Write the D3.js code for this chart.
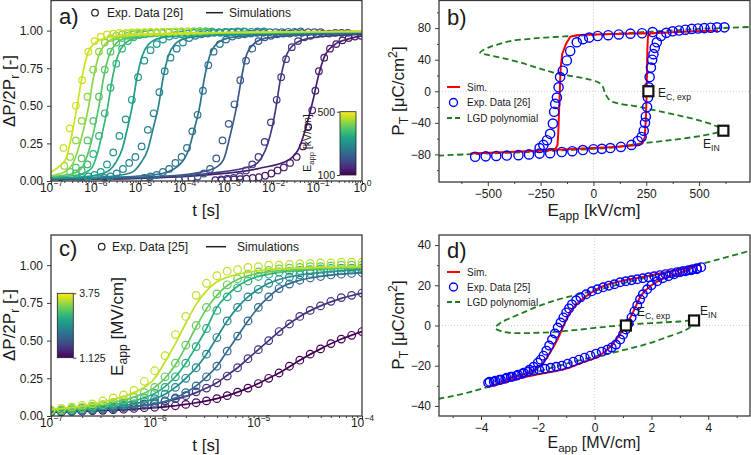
<!DOCTYPE html>
<html><head><meta charset="utf-8">
<script src="https://cdn.jsdelivr.net/npm/d3@7"></script>
<style>
body{margin:0;background:#fff;}
svg{display:block;font-family:"Liberation Sans",Arial,Helvetica,sans-serif;}
</style></head><body>
<svg id="chart" width="751" height="455"></svg>
<script>
// ================= DATA =================
// Panel a: switching kinetics (log10 t [s], dP/2Pr), fields in kV/cm
const fieldsA = [470, 430, 395, 365, 320, 280, 250, 210, 165, 130];
const colorRangeA = [100, 500];
const simA = [
 [[-7,0.06],[-6.8,0.10],[-6.66,0.15],[-6.51,0.34],[-6.40,0.52],[-6.29,0.71],[-6.17,0.85],[-6.02,0.915],[-5.78,0.95],[-5.3,0.97],[-4.5,0.98],[-3,0.988],[0,0.995]],
 [[-7,0.035],[-6.7,0.06],[-6.5,0.12],[-6.38,0.22],[-6.26,0.35],[-6.15,0.50],[-6.05,0.68],[-5.93,0.83],[-5.78,0.91],[-5.55,0.95],[-5.05,0.97],[-4.2,0.98],[-2.5,0.988],[0,0.995]],
 [[-7,0.03],[-6.5,0.05],[-6.3,0.09],[-6.15,0.20],[-6.03,0.34],[-5.92,0.50],[-5.82,0.68],[-5.70,0.83],[-5.55,0.91],[-5.32,0.95],[-4.8,0.97],[-4.0,0.98],[-2.3,0.987],[0,0.993]],
 [[-7,0.025],[-6.4,0.04],[-6.1,0.08],[-5.95,0.19],[-5.83,0.34],[-5.72,0.50],[-5.62,0.68],[-5.50,0.83],[-5.35,0.91],[-5.1,0.95],[-4.6,0.967],[-3.8,0.978],[-2,0.987],[0,0.993]],
 [[-7,0.02],[-6.2,0.03],[-5.75,0.06],[-5.55,0.12],[-5.40,0.21],[-5.28,0.35],[-5.17,0.50],[-5.07,0.68],[-4.95,0.83],[-4.80,0.91],[-4.55,0.95],[-4.05,0.967],[-3.2,0.978],[-1.5,0.987],[0,0.992]],
 [[-7,0.018],[-5.8,0.028],[-5.2,0.055],[-4.98,0.12],[-4.82,0.21],[-4.70,0.35],[-4.58,0.50],[-4.48,0.68],[-4.36,0.83],[-4.21,0.91],[-3.96,0.95],[-3.45,0.967],[-2.6,0.977],[-1,0.986],[0,0.99]],
 [[-7,0.015],[-5.5,0.025],[-4.5,0.05],[-4.1,0.11],[-3.90,0.21],[-3.77,0.35],[-3.65,0.50],[-3.55,0.68],[-3.43,0.83],[-3.28,0.91],[-3.02,0.95],[-2.5,0.967],[-1.6,0.977],[0,0.987]],
 [[-7,0.012],[-5,0.025],[-3.92,0.045],[-3.32,0.085],[-3.12,0.14],[-2.97,0.30],[-2.82,0.50],[-2.72,0.67],[-2.62,0.82],[-2.44,0.91],[-2.17,0.95],[-1.62,0.967],[-0.72,0.976],[0,0.982]],
 [[-7,0.01],[-5,0.02],[-3.47,0.05],[-2.47,0.10],[-2.25,0.16],[-2.13,0.24],[-2.02,0.36],[-1.93,0.50],[-1.84,0.67],[-1.72,0.82],[-1.52,0.91],[-1.17,0.95],[-0.57,0.968],[0,0.975]],
 [[-7,0.01],[-5,0.018],[-3.5,0.04],[-2.3,0.085],[-1.65,0.14],[-1.40,0.23],[-1.22,0.40],[-1.10,0.54],[-0.98,0.70],[-0.84,0.83],[-0.6,0.91],[-0.3,0.945],[0,0.965]]
];
const expA = [
 [[-6.72,0.22],[-6.58,0.35],[-6.44,0.50],[-6.30,0.67],[-6.16,0.86],[-6.02,0.93],[-5.88,0.96],[-5.74,0.975],[-5.60,0.98],[-5.46,0.985],[-5.32,0.985],[-5.18,0.988],[-5.04,0.99],[-4.90,0.99],[-4.76,0.99],[-4.62,0.99],[-4.48,0.992],[-4.34,0.992],[-4.20,0.995],[-4.06,0.995],[-3.92,0.995]],
 [[-6.70,0.10],[-6.57,0.16],[-6.44,0.27],[-6.31,0.40],[-6.18,0.56],[-6.05,0.74],[-5.92,0.86],[-5.79,0.92],[-5.66,0.95],[-5.53,0.965],[-5.40,0.975],[-5.27,0.98],[-5.14,0.985],[-5.01,0.985],[-4.88,0.988],[-4.75,0.99],[-4.62,0.99],[-4.48,0.99],[-4.34,0.992],[-4.20,0.992],[-4.06,0.995],[-3.92,0.995],[-3.78,0.995],[-3.64,0.995]],
 [[-6.57,0.06],[-6.44,0.09],[-6.31,0.15],[-6.18,0.27],[-6.05,0.40],[-5.92,0.56],[-5.79,0.74],[-5.66,0.86],[-5.53,0.92],[-5.40,0.95],[-5.27,0.965],[-5.14,0.975],[-5.01,0.98],[-4.88,0.985],[-4.75,0.985],[-4.62,0.988],[-4.49,0.99],[-4.35,0.99],[-4.21,0.99],[-4.07,0.992],[-3.93,0.992],[-3.79,0.995],[-3.65,0.995],[-3.51,0.995]],
 [[-6.44,0.05],[-6.31,0.07],[-6.18,0.11],[-6.05,0.18],[-5.92,0.30],[-5.79,0.45],[-5.66,0.62],[-5.53,0.78],[-5.40,0.88],[-5.27,0.93],[-5.14,0.955],[-5.01,0.97],[-4.88,0.975],[-4.75,0.98],[-4.62,0.985],[-4.49,0.985],[-4.36,0.99],[-4.22,0.99],[-4.08,0.99],[-3.94,0.992],[-3.80,0.992],[-3.66,0.995],[-3.52,0.995],[-3.38,0.995]],
 [[-6.30,0.02],[-6.16,0.03],[-6.02,0.04],[-5.88,0.06],[-5.74,0.11],[-5.60,0.19],[-5.46,0.30],[-5.32,0.41],[-5.18,0.54],[-5.04,0.69],[-4.90,0.80],[-4.76,0.87],[-4.62,0.91],[-4.48,0.94],[-4.34,0.96],[-4.20,0.97],[-4.06,0.975],[-3.92,0.98],[-3.78,0.985],[-3.64,0.985],[-3.50,0.99],[-3.36,0.99],[-3.22,0.99],[-3.08,0.992],[-2.94,0.992],[-2.80,0.995],[-2.66,0.995]],
 [[-5.80,0.02],[-5.66,0.03],[-5.52,0.05],[-5.38,0.08],[-5.24,0.12],[-5.10,0.16],[-4.96,0.23],[-4.82,0.34],[-4.69,0.45],[-4.56,0.59],[-4.44,0.73],[-4.31,0.82],[-4.17,0.88],[-4.03,0.92],[-3.89,0.95],[-3.75,0.965],[-3.61,0.975],[-3.47,0.98],[-3.33,0.985],[-3.19,0.985],[-3.05,0.99],[-2.91,0.99],[-2.77,0.99],[-2.63,0.992],[-2.49,0.992],[-2.35,0.995],[-2.21,0.995]],
 [[-4.90,0.02],[-4.76,0.03],[-4.62,0.04],[-4.48,0.06],[-4.34,0.08],[-4.20,0.12],[-4.06,0.16],[-3.94,0.22],[-3.82,0.33],[-3.70,0.44],[-3.58,0.60],[-3.46,0.77],[-3.34,0.86],[-3.20,0.91],[-3.06,0.94],[-2.92,0.96],[-2.78,0.97],[-2.64,0.975],[-2.50,0.98],[-2.36,0.985],[-2.22,0.985],[-2.08,0.99],[-1.94,0.99],[-1.80,0.99],[-1.66,0.992],[-1.52,0.992],[-1.38,0.995]],
 [[-4.12,0.01],[-3.98,0.015],[-3.84,0.02],[-3.70,0.03],[-3.56,0.05],[-3.42,0.08],[-3.28,0.15],[-3.14,0.27],[-3.00,0.38],[-2.87,0.51],[-2.74,0.67],[-2.61,0.80],[-2.47,0.88],[-2.33,0.93],[-2.19,0.955],[-2.05,0.965],[-1.91,0.975],[-1.77,0.98],[-1.63,0.98],[-1.49,0.985],[-1.35,0.985],[-1.21,0.99],[-1.07,0.99],[-0.93,0.99]],
 [[-3.17,0.01],[-3.03,0.015],[-2.89,0.02],[-2.75,0.03],[-2.61,0.07],[-2.47,0.11],[-2.33,0.16],[-2.19,0.26],[-2.05,0.39],[-1.92,0.54],[-1.82,0.69],[-1.71,0.81],[-1.58,0.89],[-1.44,0.93],[-1.30,0.955],[-1.16,0.965],[-1.02,0.975],[-0.88,0.98],[-0.74,0.98],[-0.60,0.985],[-0.46,0.985],[-0.32,0.985]],
 [[-3.30,0.005],[-3.16,0.005],[-3.02,0.008],[-2.88,0.01],[-2.74,0.012],[-2.60,0.015],[-2.46,0.02],[-2.32,0.025],[-2.18,0.035],[-2.04,0.05],[-1.90,0.07],[-1.76,0.09],[-1.62,0.12],[-1.47,0.16],[-1.33,0.23],[-1.21,0.36],[-1.12,0.47],[-1.05,0.60],[-0.97,0.73],[-0.85,0.82],[-0.72,0.88],[-0.58,0.91],[-0.44,0.935],[-0.30,0.95],[-0.16,0.96],[-0.02,0.965]]
];
const ticksA_x = [1e-7,1e-6,1e-5,1e-4,1e-3,1e-2,1e-1,1];
const ticksY_frac = [0,0.25,0.5,0.75,1.0];

// Panel c: fields in MV/cm
const fieldsC = [3.5, 3.125, 2.75, 2.375, 2.0, 1.5, 1.125];
const colorRangeC = [1.125, 3.75];
const tSimC = [-7,-6.7,-6.4,-6.2,-6.0,-5.9,-5.8,-5.7,-5.6,-5.5,-5.4,-5.3,-5.2,-5.1,-5.0,-4.9,-4.8,-4.6,-4.4,-4.2,-4.0];
const simC = [
 [0.045,0.065,0.11,0.155,0.25,0.36,0.48,0.615,0.74,0.83,0.89,0.92,0.94,0.952,0.962,0.97,0.975,0.98,0.985,0.988,0.99],
 [0.04,0.055,0.09,0.125,0.19,0.25,0.34,0.46,0.59,0.71,0.80,0.865,0.905,0.93,0.945,0.955,0.962,0.972,0.978,0.982,0.985],
 [0.035,0.05,0.075,0.10,0.15,0.195,0.26,0.35,0.46,0.58,0.72,0.80,0.86,0.90,0.925,0.94,0.952,0.965,0.973,0.978,0.98],
 [0.03,0.042,0.06,0.08,0.115,0.145,0.19,0.25,0.32,0.41,0.52,0.63,0.72,0.79,0.84,0.88,0.905,0.935,0.952,0.963,0.97],
 [0.028,0.035,0.048,0.06,0.08,0.095,0.12,0.155,0.20,0.26,0.33,0.43,0.53,0.63,0.72,0.79,0.845,0.90,0.925,0.94,0.95],
 [0.03,0.038,0.05,0.062,0.08,0.095,0.11,0.13,0.155,0.185,0.22,0.27,0.32,0.38,0.44,0.50,0.56,0.66,0.73,0.78,0.815],
 [0.025,0.03,0.038,0.045,0.055,0.06,0.068,0.077,0.088,0.10,0.115,0.135,0.158,0.185,0.215,0.25,0.285,0.37,0.445,0.51,0.56]
];
const tExpC = [-7.0,-6.9,-6.8,-6.7,-6.6,-6.5,-6.4,-6.3,-6.2,-6.1,-6.0,-5.9,-5.8,-5.7,-5.6,-5.5,-5.4,-5.3,-5.2,-5.1,-5.0,-4.9,-4.8,-4.7,-4.6,-4.5,-4.4,-4.3,-4.2,-4.1,-4.0];
const expC = [
 [0.04,0.05,0.06,0.07,0.08,0.10,0.12,0.14,0.17,0.23,0.30,0.40,0.54,0.66,0.80,0.88,0.93,0.96,0.97,0.985,0.99,1.0,1.0,1.005,1.01,1.01,1.015,1.015,1.02,1.02,1.02],
 [0.035,0.04,0.05,0.055,0.065,0.075,0.09,0.105,0.125,0.155,0.19,0.26,0.35,0.47,0.60,0.72,0.81,0.87,0.91,0.94,0.955,0.965,0.975,0.98,0.985,0.99,0.99,0.995,1.0,1.0,1.0],
 [0.03,0.035,0.04,0.05,0.055,0.065,0.075,0.085,0.10,0.12,0.15,0.19,0.26,0.35,0.46,0.58,0.70,0.79,0.85,0.895,0.925,0.94,0.955,0.96,0.965,0.97,0.975,0.978,0.98,0.98,0.982],
 [0.03,0.03,0.035,0.04,0.045,0.05,0.06,0.07,0.08,0.095,0.115,0.145,0.19,0.25,0.32,0.41,0.52,0.63,0.72,0.79,0.84,0.88,0.905,0.92,0.935,0.945,0.952,0.958,0.963,0.967,0.97],
 [0.025,0.028,0.03,0.035,0.04,0.045,0.048,0.055,0.06,0.07,0.08,0.095,0.12,0.155,0.20,0.26,0.33,0.43,0.53,0.63,0.72,0.79,0.845,0.875,0.90,0.915,0.925,0.935,0.94,0.945,0.95],
 [0.03,0.032,0.035,0.038,0.043,0.05,0.055,0.062,0.07,0.08,0.09,0.10,0.115,0.135,0.16,0.185,0.22,0.265,0.32,0.38,0.44,0.50,0.56,0.61,0.66,0.70,0.73,0.76,0.785,0.80,0.815],
 [0.025,0.027,0.03,0.032,0.035,0.038,0.042,0.045,0.05,0.055,0.058,0.063,0.068,0.077,0.088,0.10,0.115,0.135,0.158,0.185,0.215,0.25,0.285,0.33,0.37,0.41,0.445,0.48,0.51,0.535,0.56]
];
const ticksC_x = [1e-7,1e-6,1e-5,1e-4];

// Panel b: P-E loop (kV/cm, uC/cm2)
const simB = [[-583,-79],[-450,-77.5],[-300,-76],[-170,-74],[0,-72],[100,-70.5],[200,-68.5],[232,-66],[243,-58],[248,-35],[251,-10],[253,20],[255,50],[258,70],[270,73.2],[350,74.5],[450,75.8],[590,77],
 [450,75.8],[350,74.5],[260,73.5],[100,72.5],[0,72],[-80,71],[-110,69],[-130,60],[-148,47],[-155,30],[-158,10],[-162,-20],[-166,-50],[-170,-68],[-180,-73],[-250,-75],[-400,-77],[-583,-79]];
const expB = [[-560,-83],[-510,-82.5],[-460,-82],[-410,-81.5],[-355,-81],[-305,-80],[-255,-79],[-205,-78.5],[-150,-77],[-100,-76],[-50,-74.5],[0,-73.5],[40,-73],[80,-72],[130,-70.5],[180,-68],[210,-63],[228,-58],[238,-50],[244,-40],[248,-32],[254,-20],[258,-8],[262,5],[266,18],[272,30],[278,40],[284,47],[290,55],[300,62],[320,70],[345,74],[375,76],[405,77],[435,78],[465,79],[495,79.5],[525,80],[555,80.5],[585,81],[620,81],
 [280,75],[230,73.5],[175,73],[120,72],[70,71],[20,70],[-20,68],[-50,66],[-79,62],[-110,51],[-126,39],[-145,26],[-158,18],[-165,5],[-173,-8],[-181,-16],[-186,-26],[-192,-41],[-205,-54],[-220,-62],[-237,-68],[-255,-72]];
const lgdB = [[-735,-81.5],[-600,-80],[-450,-78.5],[-300,-77],[-150,-75],[0,-73],[100,-71],[200,-67],[363,-62],[521,-56],[590,-52],[622,-50],
 [580,-44],[516,-38],[440,-33],[358,-28],[280,-23.5],[200,-19],[120,-15.5],[80,-12],[62,-6],[52,0],[44,6],[25,11],[-36,16],[-100,19],[-194,24],[-270,30],[-347,36.5],[-430,42],[-500,46],[-536,49],
 [-500,55],[-450,59.5],[-394,63.5],[-300,66.5],[-200,68.5],[-100,70],[0,71.5],[100,73],[200,74.5],[300,76],[400,77.5],[500,79],[600,80],[745,81.5]];
const markB = {ec:[260,0], ein:[615,-50]};
const ticksB_x = [-500,-250,0,250,500];
const ticksB_y = [-80,-40,0,40,80];

// Panel d: P-E loop (MV/cm, uC/cm2)
const simD = [[3.73,30.6],[3.2,28.3],[2.68,27],[2.0,25],[1.5,23.6],[1.0,22.3],[0.62,21],[0.3,19.5],[0,17.5],[-0.2,15.5],[-0.4,13.5],[-0.6,11],[-0.85,7],[-1.08,0.3],[-1.31,-7],[-1.55,-13],[-1.78,-18],[-2.0,-21],[-2.35,-23.6],[-2.93,-26],[-3.3,-28],[-3.7,-30.5],
 [-3.0,-27.5],[-2.58,-26],[-2.0,-24.3],[-1.41,-22.7],[-0.9,-21],[-0.47,-18.5],[0.12,-15.5],[0.35,-13],[0.59,-10],[0.94,-3.3],[1.17,1.7],[1.41,8.3],[1.64,15],[2.0,20],[2.46,23.6],[3.17,27],[3.73,30.6]];
const expD = [[3.75,29],[3.6,28.5],[3.45,28],[3.3,27.5],[3.1,27],[2.9,26.5],[2.7,26],[2.5,25.5],[2.3,25],[2.1,24.5],[1.9,24],[1.7,23.5],[1.5,23],[1.3,22.5],[1.1,22],[0.9,21.5],[0.7,20.5],[0.5,19.8],[0.3,19],[0.1,18],[-0.1,17],[-0.3,15.5],[-0.5,14],[-0.65,12.5],[-0.8,10.5],[-0.9,8.5],[-1.0,6.5],[-1.1,4],[-1.2,1.5],[-1.3,-1],[-1.4,-4],[-1.5,-7],[-1.6,-10],[-1.7,-12.5],[-1.8,-15],[-1.9,-17],[-2.0,-18.5],[-2.15,-20.5],[-2.3,-22],[-2.5,-23.5],[-2.7,-24.5],[-2.9,-25.5],[-3.1,-26],[-3.3,-27],[-3.5,-27.5],[-3.7,-28],
 [-3.75,-28.5],[-3.55,-28],[-3.35,-27],[-3.15,-26.5],[-2.95,-25.5],[-2.75,-25],[-2.55,-24],[-2.35,-23],[-2.15,-22.5],[-1.95,-22],[-1.75,-21.5],[-1.55,-21],[-1.35,-20.5],[-1.15,-20],[-0.95,-19],[-0.75,-18],[-0.55,-17],[-0.35,-16],[-0.15,-15],[0.05,-14],[0.25,-13],[0.45,-12],[0.6,-11],[0.75,-9.5],[0.9,-7],[1.0,-4.5],[1.1,-2],[1.2,1],[1.3,4],[1.4,7],[1.5,10],[1.6,13],[1.7,15.5],[1.85,18],[2.0,20],[2.2,22],[2.4,23.5],[2.6,24.5],[2.8,25.5],[3.0,26.5],[3.2,27],[3.4,27.5],[3.6,28]];
const lgdD = [[-5.5,-36.5],[-4.5,-33.5],[-4,-31.5],[-3,-27.5],[-2,-23],[-1,-19],[0,-15.5],[0.5,-14],[1,-12.3],[1.5,-10.5],[2,-8.5],[2.5,-6],[3,-3.5],[3.3,-1.5],[3.48,1],[3.55,2.5],
 [3.0,2],[2.5,1.6],[2.0,1.2],[1.5,0.8],[1.0,0.2],[0.5,-0.5],[0,-1.2],[-0.5,-2],[-1,-2.7],[-1.5,-3.3],[-2,-3.6],[-2.5,-3.8],[-3,-3.6],[-3.3,-2.8],[-3.5,-1.2],
 [-3.3,1.5],[-3,3.5],[-2.5,6.5],[-2,9.5],[-1.5,12],[-1,14],[-0.5,15.8],[0,17.3],[1,21],[2,24.5],[3,28],[4,31.5],[5.5,37.3]];
const markD = {ec:[1.1,0], ein:[3.5,2.5]};
const ticksD_x = [-4,-2,0,2,4];
const ticksD_y = [-40,-20,0,20,40];

// ================= DRAW =================
const svg = d3.select('#chart');
const AX = '#3a3a3a', TXT = '#1a1a1a';
const RED = '#ff0000', BLUE = '#0000ff', GREEN = '#1f7a1f';
const minus = v => String(v).replace('-', '\u2212');

const PA={l:51,r:362,t:0.5,b:181}, PB={l:439,r:750,t:0.5,b:182};
const PC={l:51,r:362,t:235,b:416}, PD={l:439,r:750,t:235,b:416};

const xa=d3.scaleLog().domain([1e-7,1]).range([PA.l,PA.r]);
const ya=d3.scaleLinear().domain([0,1.2]).range([PA.b,PA.t]);
const xc=d3.scaleLog().domain([1e-7,1e-4]).range([PC.l,PC.r]);
const yc=d3.scaleLinear().domain([0,1.2]).range([PC.b,PC.t]);
const xb=d3.scaleLinear().domain([-731,741]).range([PB.l,PB.r]);
const yb=d3.scaleLinear().domain([-115,115]).range([PB.b,PB.t]);
const xd=d3.scaleLinear().domain([-5.48,5.47]).range([PD.l,PD.r]);
const yd=d3.scaleLinear().domain([-45,45]).range([PD.b,PD.t]);

function rich(sel, parts, fs){
  let shift=0;
  parts.forEach(([t,k])=>{
    const target = k==='sub'? 0.26*fs : k==='sup'? -0.42*fs : 0;
    const ts = sel.append('tspan').text(t).attr('dy', target-shift);
    if(k!=='n') ts.attr('font-size', 0.72*fs);
    shift = target;
  });
}
const defs = svg.append('defs');
function clip(id,P){
  defs.append('clipPath').attr('id',id).append('rect')
    .attr('x',P.l).attr('y',P.t).attr('width',P.r-P.l).attr('height',P.b-P.t);
  return svg.append('g').attr('clip-path',`url(#${id})`);
}
function styleAxis(g){
  g.select('.domain').remove();
  g.selectAll('.tick line').attr('stroke',AX).attr('stroke-width',1);
  g.selectAll('.tick text').attr('font-size',12).attr('fill',TXT).attr('font-family','"Liberation Sans",Arial,sans-serif');
}
function axes(P,x,y,o){
  const gx=svg.append('g').attr('transform',`translate(0,${P.b})`)
    .call(d3.axisBottom(x).tickValues(o.xt).tickSize(4).tickPadding(o.xlog?6.5:3).tickFormat(o.xf||(d=>minus(d))));
  styleAxis(gx);
  if(o.xlog){
    gx.selectAll('.tick text').each(function(d){
      const t=d3.select(this); t.text('');
      rich(t,[['10','n'],[minus(Math.round(Math.log10(d))),'sup']],12);
    });
  }
  if(o.xm){ const g=svg.append('g').attr('transform',`translate(0,${P.b})`)
    .call(d3.axisBottom(x).tickValues(o.xm).tickSize(2).tickFormat('')); styleAxis(g); }
  const gy=svg.append('g').attr('transform',`translate(${P.l},0)`)
    .call(d3.axisLeft(y).tickValues(o.yt).tickSize(4).tickPadding(4).tickFormat(o.yf||(d=>minus(d))));
  styleAxis(gy);
  if(o.ym){ const g=svg.append('g').attr('transform',`translate(${P.l},0)`)
    .call(d3.axisLeft(y).tickValues(o.ym).tickSize(2).tickFormat('')); styleAxis(g); }
}
function frame(P){
  svg.append('rect').attr('x',P.l).attr('y',P.t).attr('width',P.r-P.l).attr('height',P.b-P.t)
    .attr('fill','none').attr('stroke',AX).attr('stroke-width',1.3);
}
function label(x,y,parts,fs,rot,anchor){
  const t=svg.append('text').attr('font-size',fs).attr('fill',TXT).attr('text-anchor',anchor||'middle')
    .attr('transform',`translate(${x},${y})${rot?' rotate(-90)':''}`);
  rich(t,parts,fs);
  return t;
}
function gradient(id){
  const g=defs.append('linearGradient').attr('id',id).attr('x1',0).attr('y1',1).attr('x2',0).attr('y2',0);
  d3.range(0,1.0001,0.1).forEach(s=>g.append('stop').attr('offset',s).attr('stop-color',d3.interpolateViridis(s)));
}

// ---------- Panel a ----------
const colA=d3.scaleLinear().domain(colorRangeA).range([0,1]);
const gA=clip('ca',PA);
const lineA=d3.line().x(d=>xa(Math.pow(10,d[0]))).y(d=>ya(d[1])).curve(d3.curveMonotoneX);
for(let i=fieldsA.length-1;i>=0;i--){
  const c=d3.interpolateViridis(colA(fieldsA[i]));
  gA.append('g').selectAll('circle').data(expA[i]).join('circle')
    .attr('cx',d=>xa(Math.pow(10,d[0]))).attr('cy',d=>ya(d[1])).attr('r',3.3)
    .attr('fill','none').attr('stroke',c).attr('stroke-width',1.2);
  gA.append('path').attr('d',lineA(simA[i])).attr('fill','none').attr('stroke',c).attr('stroke-width',1.7);
}
axes(PA,xa,ya,{xt:ticksA_x,xlog:true,xm:xa.ticks().filter(v=>Math.abs(Math.log10(v)%1)>1e-6),yt:ticksY_frac,yf:d3.format('.2f')});
frame(PA);
label(59,24,[['a)','n']],22,false,'start');
svg.append('circle').attr('cx',95).attr('cy',12.7).attr('r',3.3).attr('fill','none').attr('stroke','#222').attr('stroke-width',1.2);
label(107,17,[['Exp. Data [26]','n']],12,false,'start');
svg.append('line').attr('x1',206).attr('x2',223).attr('y1',12.7).attr('y2',12.7).attr('stroke','#222').attr('stroke-width',1.5);
label(229,17,[['Simulations','n']],12,false,'start');
label(206,216,[['t [s]','n']],17);
label(15,91,[['\u0394P/2P','n'],['r','sub'],[' [-]','n']],17,true);
// colorbar a
gradient('vir');
svg.append('rect').attr('x',340).attr('y',111.7).attr('width',16).attr('height',63.3).attr('fill','url(#vir)').attr('stroke','#222').attr('stroke-width',0.8);
const cbA=d3.scaleLinear().domain(colorRangeA).range([175,111.7]);
const gcbA=svg.append('g').attr('transform','translate(340,0)').call(d3.axisLeft(cbA).tickValues(colorRangeA).tickSize(3).tickPadding(2));
styleAxis(gcbA); gcbA.selectAll('.tick text').attr('font-size',10.5);
label(311,143,[['E','n'],['app','sub'],[' [kV/cm]','n']],10.5,true);

// ---------- Panel c ----------
const colC=d3.scaleLinear().domain(colorRangeC).range([0,1]);
const gC=clip('cc',PC);
const lineC=d3.line().x(d=>xc(Math.pow(10,d[0]))).y(d=>yc(d[1])).curve(d3.curveMonotoneX);
for(let i=fieldsC.length-1;i>=0;i--){
  const c=d3.interpolateViridis(colC(fieldsC[i]));
  gC.append('g').selectAll('circle').data(expC[i]).join('circle')
    .attr('cx',(d,j)=>xc(Math.pow(10,tExpC[j]))).attr('cy',d=>yc(d)).attr('r',3.8)
    .attr('fill','none').attr('stroke',c).attr('stroke-width',1.2);
  gC.append('path').attr('d',lineC(simC[i].map((v,j)=>[tSimC[j],v]))).attr('fill','none').attr('stroke',c).attr('stroke-width',1.7);
}
axes(PC,xc,yc,{xt:ticksC_x,xlog:true,xm:xc.ticks().filter(v=>Math.abs(Math.log10(v)%1)>1e-6),yt:ticksY_frac,yf:d3.format('.2f')});
frame(PC);
label(59,256,[['c)','n']],22,false,'start');
svg.append('circle').attr('cx',101.7).attr('cy',246.7).attr('r',3.3).attr('fill','none').attr('stroke','#222').attr('stroke-width',1.2);
label(112,251,[['Exp. Data [25]','n']],12,false,'start');
svg.append('line').attr('x1',206).attr('x2',226).attr('y1',246.7).attr('y2',246.7).attr('stroke','#222').attr('stroke-width',1.5);
label(237,251,[['Simulations','n']],12,false,'start');
label(206,451,[['t [s]','n']],17);
label(15,325,[['\u0394P/2P','n'],['r','sub'],[' [-]','n']],17,true);
svg.append('rect').attr('x',57.3).attr('y',293.3).attr('width',16).attr('height',64.4).attr('fill','url(#vir)').attr('stroke','#222').attr('stroke-width',0.8);
const cbC=d3.scaleLinear().domain(colorRangeC).range([357.7,293.3]);
const gcbC=svg.append('g').attr('transform','translate(73.3,0)').call(d3.axisRight(cbC).tickValues(colorRangeC).tickSize(3).tickPadding(3).tickFormat(d=>String(d)));
styleAxis(gcbC); gcbC.selectAll('.tick text').attr('font-size',10.5);
label(123,326.5,[['E','n'],['app','sub'],[' [MV/cm]','n']],17,true);

// ---------- Panel b ----------
function zeroLines(P,x,y){
  svg.append('line').attr('x1',x(0)).attr('x2',x(0)).attr('y1',P.t).attr('y2',P.b).attr('stroke','#c8c8c8').attr('stroke-width',0.9).attr('stroke-dasharray','1,2');
  svg.append('line').attr('x1',P.l).attr('x2',P.r).attr('y1',y(0)).attr('y2',y(0)).attr('stroke','#c8c8c8').attr('stroke-width',0.9).attr('stroke-dasharray','1,2');
}
function loopPanel(P,x,y,sim,exp,lgd,mark,id,curveSim,r){
  zeroLines(P,x,y);
  const g=clip(id,P);
  g.append('path').attr('d',d3.line().x(d=>x(d[0])).y(d=>y(d[1])).curve(d3.curveCatmullRom.alpha(0.5))(lgd))
    .attr('fill','none').attr('stroke',GREEN).attr('stroke-width',1.8).attr('stroke-dasharray','6,3.5');
  g.append('path').attr('d',d3.line().x(d=>x(d[0])).y(d=>y(d[1])).curve(curveSim)(sim))
    .attr('fill','none').attr('stroke',RED).attr('stroke-width',2);
  g.append('g').selectAll('circle').data(exp).join('circle')
    .attr('cx',d=>x(d[0])).attr('cy',d=>y(d[1])).attr('r',r)
    .attr('fill','none').attr('stroke',BLUE).attr('stroke-width',1.4);
  [mark.ec,mark.ein].forEach(m=>{
    svg.append('rect').attr('x',x(m[0])-5).attr('y',y(m[1])-5).attr('width',10).attr('height',10)
      .attr('fill','#fff').attr('stroke','#111').attr('stroke-width',2.2);
  });
}
loopPanel(PB,xb,yb,simB,expB,lgdB,markB,'cb',d3.curveLinear,4.6);
axes(PB,xb,yb,{xt:ticksB_x,xm:[-625,-375,-125,125,375,625],yt:ticksB_y,ym:[-100,-60,-20,20,60,100]});
frame(PB);
label(447,25,[['b)','n']],22,false,'start');
label(658,97,[['E','n'],['C, exp','sub']],12,false,'start');
label(703,148,[['E','n'],['IN','sub']],12,false,'start');
label(594,216,[['E','n'],['app','sub'],[' [kV/cm]','n']],17);
label(404,91,[['P','n'],['T','sub'],[' [\u03bcC/cm','n'],['2','sup'],[']','n']],17,true);
function legendLoop(x0,ys,txt){
  svg.append('line').attr('x1',x0).attr('x2',x0+13).attr('y1',ys[0]).attr('y2',ys[0]).attr('stroke',RED).attr('stroke-width',2);
  svg.append('circle').attr('cx',x0+6.5).attr('cy',ys[1]).attr('r',4).attr('fill','none').attr('stroke',BLUE).attr('stroke-width',1.4);
  svg.append('line').attr('x1',x0).attr('x2',x0+13).attr('y1',ys[2]).attr('y2',ys[2]).attr('stroke',GREEN).attr('stroke-width',1.8).attr('stroke-dasharray','5,3');
  ['Sim.',txt,'LGD polynomial'].forEach((t,i)=>label(x0+20,ys[i]+3.5,[[t,'n']],10,false,'start'));
}
legendLoop(447,[87,102.5,118],'Exp. Data [26]');

// ---------- Panel d ----------
loopPanel(PD,xd,yd,simD,expD,lgdD,markD,'cd',d3.curveCatmullRom.alpha(0.5),4.3);
axes(PD,xd,yd,{xt:ticksD_x,xm:[-5,-3,-1,1,3,5],yt:ticksD_y,ym:[-30,-10,10,30]});
frame(PD);
label(447,258,[['d)','n']],22,false,'start');
label(637,316,[['E','n'],['C, exp','sub']],12,false,'start');
label(700,315,[['E','n'],['IN','sub']],12,false,'start');
label(594,448,[['E','n'],['app','sub'],[' [MV/cm]','n']],16);
label(404,325,[['P','n'],['T','sub'],[' [\u03bcC/cm','n'],['2','sup'],[']','n']],17,true);
legendLoop(447,[272,287,302],'Exp. Data [25]');
</script></body></html>
